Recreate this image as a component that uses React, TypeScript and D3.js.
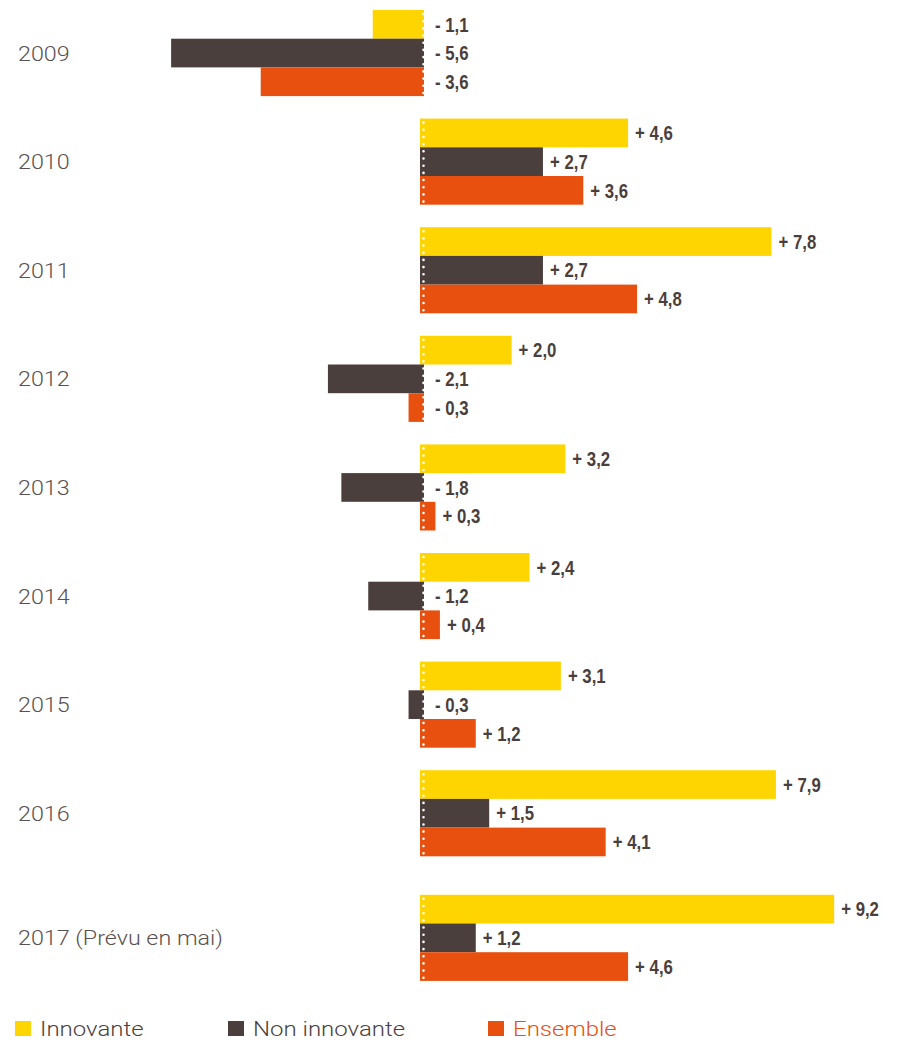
import { useEffect, useRef } from "react";
import * as d3 from "d3";

const years = ["2009", "2010", "2011", "2012", "2013", "2014", "2015", "2016", "2017 (Prévu en mai)"];
const innovante = [-1.1, 4.6, 7.8, 2.0, 3.2, 2.4, 3.1, 7.9, 9.2];
const nonInnovante = [-5.6, 2.7, 2.7, -2.1, -1.8, -1.2, -0.3, 1.5, 1.2];
const ensemble = [-3.6, 3.6, 4.8, -0.3, 0.3, 0.4, 1.2, 4.1, 4.6];

const seriesNames = ["Innovante", "Non innovante", "Ensemble"];
const colors = ["#FFD500", "#4B3F3D", "#E8500F"];

const width = 908,
  height = 1040;

function App() {
  const svgRef = useRef(null);

  const buildSVG = () => {
    const svg = d3.select(svgRef.current);
    svg.selectAll("*").remove();
    svg.attr("width", width).attr("height", height);

    const x = d3.scaleLinear().domain([-6, 10]).range([422 - 6 * 44.8, 422 + 10 * 44.8]);
    const y = d3.scaleBand().domain(years.slice(0, 8)).range([10, 10 + 8 * 108.6]);
    const extraGap = 16;
    const groupTop = (i: number) => (i < 8 ? (y(years[i]) as number) : 10 + 8 * 108.6 + extraGap);
    const barH = 28.7;

    const series = [innovante, nonInnovante, ensemble];
    const rows: { i: number; s: number; v: number }[] = [];
    series.forEach((vals, s) => vals.forEach((v, i) => rows.push({ i, s, v })));

    const x0 = x(0);
    const fmt = (v: number) => {
      const a = Math.abs(v).toFixed(1).replace(".", ",");
      return (v < 0 ? "- " : "+ ") + a;
    };

    const g = svg.append("g");

    g.selectAll("rect.bar")
      .data(rows)
      .enter()
      .append("rect")
      .attr("class", "bar")
      .attr("x", (d) => (d.v >= 0 ? x0 - 2 : x(d.v)))
      .attr("width", (d) => Math.abs(x(d.v) - x0) + 2)
      .attr("y", (d) => groupTop(d.i) + d.s * barH)
      .attr("height", barH)
      .attr("fill", (d) => colors[d.s]);

    // dotted white zero line across each bar
    g.selectAll("line.dots")
      .data(rows)
      .enter()
      .append("line")
      .attr("x1", x0 + 1.5)
      .attr("x2", x0 + 1.5)
      .attr("y1", (d) => groupTop(d.i) + d.s * barH + 4)
      .attr("y2", (d) => groupTop(d.i) + (d.s + 1) * barH)
      .attr("stroke", "#fff")
      .attr("stroke-width", 2.6)
      .attr("stroke-linecap", "round")
      .attr("stroke-dasharray", "0 7.2");

    g.selectAll("text.val")
      .data(rows)
      .enter()
      .append("text")
      .attr(
        "transform",
        (d) =>
          "translate(" +
          (d.v >= 0 ? x(d.v) + 7 : x0 + 13) +
          "," +
          (groupTop(d.i) + d.s * barH + barH / 2) +
          ") scale(0.84,1)"
      )
      .attr("dy", "0.36em")
      .attr("font-family", "'Liberation Sans', Arial, sans-serif")
      .attr("font-weight", "bold")
      .attr("font-size", 20)
      .attr("fill", "#4B3F3D")
      .text((d) => fmt(d.v));

    g.selectAll("text.year")
      .data(years)
      .enter()
      .append("text")
      .attr("transform", (d, i) => "translate(18," + (groupTop(i) + barH * 1.5) + ") scale(1.11,1)")
      .attr("dy", "0.36em")
      .attr("font-family", "Roboto, 'Helvetica Neue', sans-serif")
      .attr("font-weight", 300)
      .attr("font-size", 21)
      .attr("fill", "#5A5050")
      .text((d) => d);

    const legendX = [15, 228, 488];
    const lg = svg
      .selectAll("g.legend")
      .data(seriesNames)
      .enter()
      .append("g")
      .attr("transform", (d, i) => "translate(" + legendX[i] + ",1021)");
    lg.append("rect").attr("width", 16).attr("height", 15).attr("fill", (d, i) => colors[i]);
    lg.append("text")
      .attr("transform", "translate(25,14.5) scale(1.2,1)")
      .attr("font-family", "Roboto, 'Helvetica Neue', sans-serif")
      .attr("font-weight", 300)
      .attr("font-size", 20)
      .attr("fill", (d, i) => (i === 2 ? colors[2] : "#4B3F3D"))
      .text((d) => d);
  };

  useEffect(buildSVG, []);

  return (
    <div style={{ position: "absolute", left: 0, top: 0 }}>
      <svg ref={svgRef}></svg>
    </div>
  );
}

export default App;
